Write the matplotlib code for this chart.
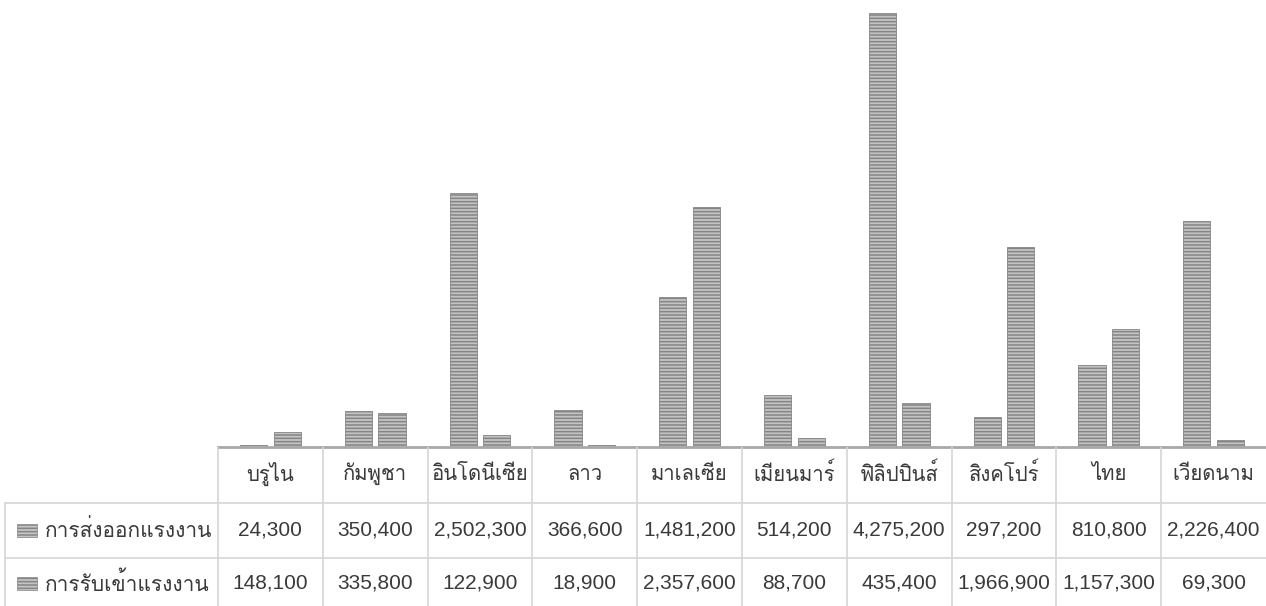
import matplotlib
matplotlib.use("Agg")
import matplotlib.pyplot as plt
import matplotlib.font_manager as fm
from matplotlib import ft2font
from matplotlib.patches import Rectangle
import numpy as np

# ---- data ----
countries = ["บรูไน", "กัมพูชา", "อินโดนีเซีย", "ลาว", "มาเลเซีย",
             "เมียนมาร์", "ฟิลิปปินส์", "สิงคโปร์", "ไทย", "เวียดนาม"]
series_names = ["การส่งออกแรงงาน", "การรับเข้าแรงงาน"]
export_vals = [24300, 350400, 2502300, 366600, 1481200,
               514200, 4275200, 297200, 810800, 2226400]
import_vals = [148100, 335800, 122900, 18900, 2357600,
               88700, 435400, 1966900, 1157300, 69300]

# ---- font with Thai coverage ----
thai_fam = None
for f in fm.fontManager.ttflist:
    try:
        cmap = ft2font.FT2Font(f.fname).get_charmap()
        if 0x0E01 in cmap and 0x0E32 in cmap and 0x0E44 in cmap:
            thai_fam = f.name
            break
    except Exception:
        pass
fams = ["Liberation Sans"] + ([thai_fam] if thai_fam else []) + ["DejaVu Sans"]
plt.rcParams["font.family"] = fams
plt.rcParams["hatch.linewidth"] = 1.1

W, H = 1266, 606
fig = plt.figure(figsize=(W / 100, H / 100), dpi=100)

x0, x1 = 218, 1266      # plot/table columns span
base_y = 447            # baseline pixel
n = len(countries)
colw = (x1 - x0) / n

# bar axes
ax = fig.add_axes([x0 / W, 1 - base_y / H, (x1 - x0) / W, base_y / H])
idx = np.arange(n)
bw = 0.26
gap = 0.06
face = "#c4c4c4"
edge = "#858585"
ax.bar(idx - (bw + gap) / 2, export_vals, width=bw, color=face,
       edgecolor=edge, linewidth=0.6, hatch="-----")
ax.bar(idx + (bw + gap) / 2, import_vals, width=bw, color=face,
       edgecolor=edge, linewidth=0.6, hatch="-----")
ax.set_xlim(-0.5, n - 0.5)
ax.set_ylim(0, 4400000)
for s in ["top", "right", "left"]:
    ax.spines[s].set_visible(False)
ax.spines["bottom"].set_color("#a8a8a8")
ax.spines["bottom"].set_linewidth(2)
ax.set_xticks([])
ax.set_yticks([])

# table axes (pixel coords)
tx = fig.add_axes([0, 0, 1, (H - base_y) / H])
tx.set_xlim(0, W)
tx.set_ylim(H, base_y)
tx.axis("off")

line_c = "#d6d6d6"
row1_top, row2_top, bottom = 503, 558, 606
left = 5
tx.plot([left, W], [row1_top, row1_top], color=line_c, lw=1.2)
tx.plot([left, W], [row2_top, row2_top], color=line_c, lw=1.2)
tx.plot([left, left], [row1_top, bottom], color=line_c, lw=1.2)
for k in range(n):
    xe = x0 + k * colw
    tx.plot([xe, xe], [base_y, bottom], color=line_c, lw=1.2)

txt_c = "#3a3a3a"
fs_num = 15
fs_thai = 14.6
for k, c in enumerate(countries):
    cx = x0 + (k + 0.5) * colw
    tx.text(cx, 474, c, ha="center", va="center", fontsize=fs_thai, color=txt_c)
    tx.text(cx, 530, f"{export_vals[k]:,}", ha="center", va="center",
            fontsize=fs_num, color=txt_c)
    tx.text(cx, 583, f"{import_vals[k]:,}", ha="center", va="center",
            fontsize=fs_num, color=txt_c)

for yc, name in [(530, series_names[0]), (583, series_names[1])]:
    tx.add_patch(Rectangle((17, yc - 6), 20, 13, facecolor=face,
                           edgecolor=edge, lw=0.5, hatch="-----"))
    tx.text(45, yc, name, ha="left", va="center", fontsize=fs_thai + 0.4,
            color=txt_c)

fig.savefig("out.png", dpi=100)
